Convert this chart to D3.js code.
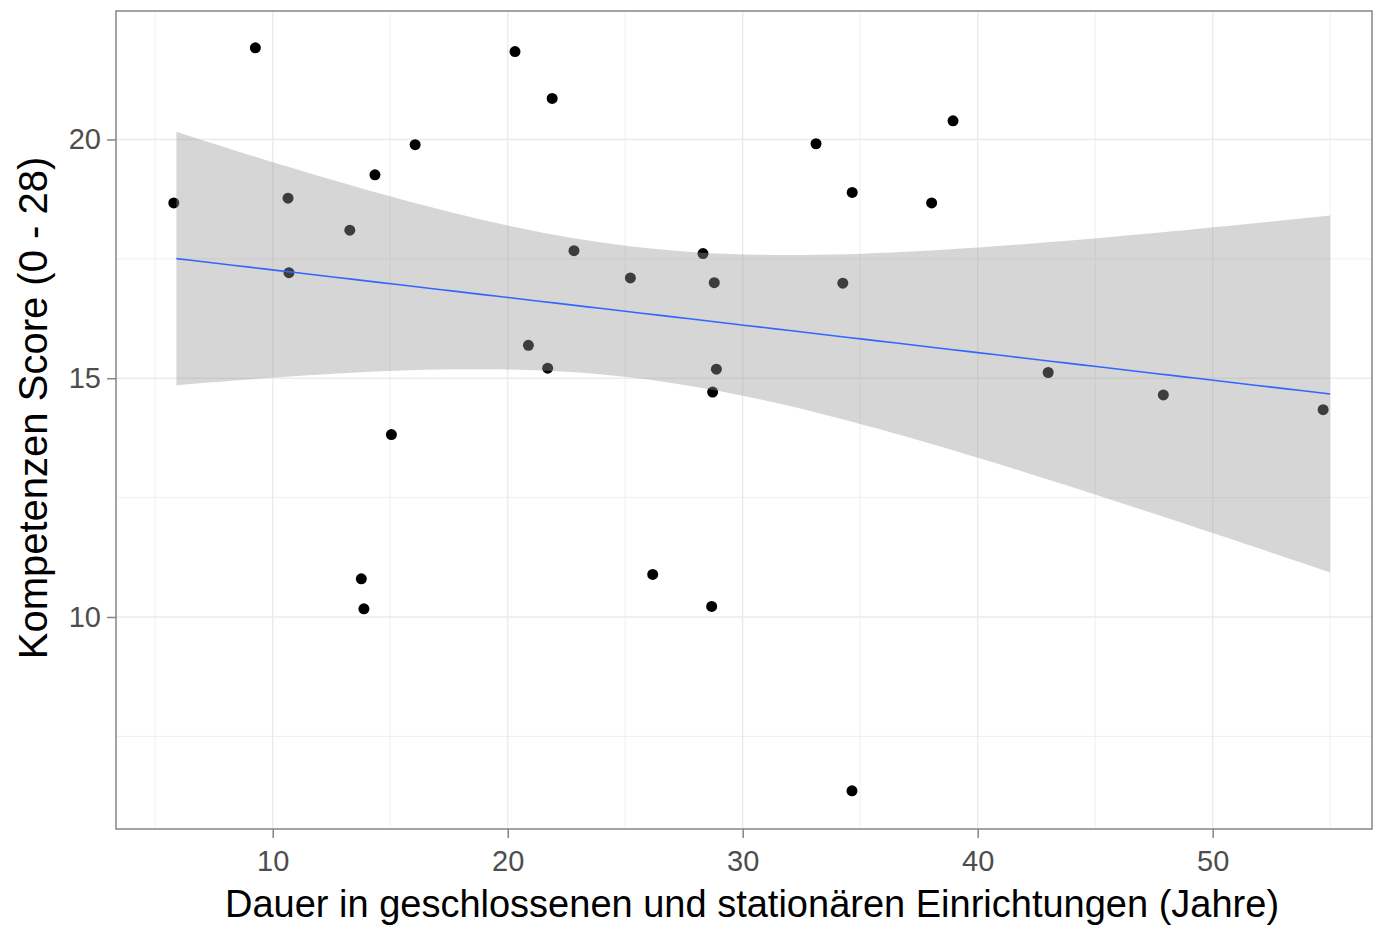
<!DOCTYPE html>
<html>
<head>
<meta charset="utf-8">
<script src="https://cdn.jsdelivr.net/npm/d3@7"></script>
<style>
	body { margin: 0; background: #ffffff; }
	svg { display: block; }
	text { font-family: "Liberation Sans", Arial, sans-serif; }
</style>
</head>
<body>
<div id="div_id_main"></div>
<script>

// Dauer (Jahre) und Kompetenzen Score
const dauerJahre = [5.79, 9.26, 10.65, 10.69, 13.28, 13.77, 13.88, 14.35, 15.05, 16.06,
					20.31, 20.88, 21.70, 21.89, 22.82, 25.22, 26.17, 28.31, 28.72, 28.68,
					28.79, 28.88, 33.12, 34.26, 34.66, 34.65, 38.04, 38.95, 43.00, 47.90, 54.70];

const kompetenzScore = [18.67, 21.92, 18.77, 17.21, 18.10, 10.80, 10.17, 19.26, 13.82, 19.89,
						21.84, 15.69, 15.21, 20.86, 17.67, 17.10, 10.89, 17.61, 14.71, 10.22,
						17.00, 15.19, 19.91, 16.99, 18.89, 6.36, 18.67, 20.39, 15.12, 14.65, 14.34];

const xTicks = [10, 20, 30, 40, 50];
const yTicks = [10, 15, 20];
const xMinor = [5, 15, 25, 35, 45, 55];
const yMinor = [7.5, 12.5, 17.5];

// range of the smooth (unjittered data)
const fitRange = [5.9, 55.0];

const X_TITLE = "Dauer in geschlossenen und stationären Einrichtungen (Jahre)";
const Y_TITLE = "Kompetenzen Score (0 - 28)";

// ---------------------------------------------------

const WIDTH = 1374, HEIGHT = 927;
const PANEL = { left: 116, right: 1372, top: 11, bottom: 829 };

let fScale_X = d3.scaleLinear()
					.domain([3.33, 56.78])
					.range([PANEL.left, PANEL.right]);

let fScale_Y = d3.scaleLinear()
					.domain([5.56, 22.69])
					.range([PANEL.bottom, PANEL.top]);

let svgMain = d3.select("#div_id_main")
				.append("svg")
					.attr("width", WIDTH)
					.attr("height", HEIGHT);

// grid -------------------------------------------

let gGrid = svgMain.append("g");

gGrid.selectAll("line.minor_x").data(xMinor).enter()
	.append("line")
		.attr("x1", d => fScale_X(d)).attr("x2", d => fScale_X(d))
		.attr("y1", PANEL.top).attr("y2", PANEL.bottom)
		.attr("stroke", "#ebebeb").attr("stroke-width", 0.8);

gGrid.selectAll("line.minor_y").data(yMinor).enter()
	.append("line")
		.attr("y1", d => fScale_Y(d)).attr("y2", d => fScale_Y(d))
		.attr("x1", PANEL.left).attr("x2", PANEL.right)
		.attr("stroke", "#ebebeb").attr("stroke-width", 0.8);

gGrid.selectAll("line.major_x").data(xTicks).enter()
	.append("line")
		.attr("x1", d => fScale_X(d)).attr("x2", d => fScale_X(d))
		.attr("y1", PANEL.top).attr("y2", PANEL.bottom)
		.attr("stroke", "#ebebeb").attr("stroke-width", 1.4);

gGrid.selectAll("line.major_y").data(yTicks).enter()
	.append("line")
		.attr("y1", d => fScale_Y(d)).attr("y2", d => fScale_Y(d))
		.attr("x1", PANEL.left).attr("x2", PANEL.right)
		.attr("stroke", "#ebebeb").attr("stroke-width", 1.4);

// points (drawn under the ribbon, like geom_point before geom_smooth) ----------

let points = dauerJahre.map((d, i) => ({ x: d, y: kompetenzScore[i] }));

svgMain.append("g").selectAll("circle").data(points).enter()
	.append("circle")
		.attr("cx", d => fScale_X(d.x))
		.attr("cy", d => fScale_Y(d.y))
		.attr("r", 5.5)
		.attr("fill", "#000000");

// linear model with 95% band ---------------------

let n = points.length;
let mx = d3.mean(points, d => d.x);
let my = d3.mean(points, d => d.y);
let sxx = d3.sum(points, d => (d.x - mx) * (d.x - mx));
let sxy = d3.sum(points, d => (d.x - mx) * (d.y - my));
let slope = sxy / sxx;
let intercept = my - slope * mx;
let sse = d3.sum(points, d => Math.pow(d.y - (intercept + slope * d.x), 2));
let sigma = Math.sqrt(sse / (n - 2));
let tCrit = 2.045; // qt(0.975, 29)

let fitGrid = d3.range(80).map(i => fitRange[0] + (fitRange[1] - fitRange[0]) * i / 79);
let fit = fitGrid.map(x => {
	let yhat = intercept + slope * x;
	let se = sigma * Math.sqrt(1 / n + (x - mx) * (x - mx) / sxx);
	return { x: x, y: yhat, lo: yhat - tCrit * se, hi: yhat + tCrit * se };
});

svgMain.append("path")
	.datum(fit)
	.attr("d", d3.area()
				.x(d => fScale_X(d.x))
				.y0(d => fScale_Y(d.lo))
				.y1(d => fScale_Y(d.hi)))
	.attr("fill", "#999999")
	.attr("fill-opacity", 0.4);

svgMain.append("path")
	.datum(fit)
	.attr("d", d3.line()
				.x(d => fScale_X(d.x))
				.y(d => fScale_Y(d.y)))
	.attr("fill", "none")
	.attr("stroke", "#3366ff")
	.attr("stroke-width", 1.6);

// panel border -------------------------------------

svgMain.append("rect")
	.attr("x", PANEL.left).attr("y", PANEL.top)
	.attr("width", PANEL.right - PANEL.left)
	.attr("height", PANEL.bottom - PANEL.top)
	.attr("fill", "none")
	.attr("stroke", "#858585")
	.attr("stroke-width", 1.5);

// axes ---------------------------------------------

let xAxis = d3.axisBottom(fScale_X).tickValues(xTicks).tickSize(9).tickPadding(12);
let yAxis = d3.axisLeft(fScale_Y).tickValues(yTicks).tickSize(9).tickPadding(6);

let gX = svgMain.append("g")
	.attr("transform", "translate(0," + PANEL.bottom + ")")
	.call(xAxis);

let gY = svgMain.append("g")
	.attr("transform", "translate(" + PANEL.left + ",0)")
	.call(yAxis);

[gX, gY].forEach(g => {
	g.select(".domain").remove();
	g.selectAll(".tick line").attr("stroke", "#858585").attr("stroke-width", 1.5);
	g.selectAll(".tick text")
		.attr("fill", "#4d4d4d")
		.style("font-size", "29px")
		.style("font-family", "'Liberation Sans', Arial, sans-serif");
});

gX.selectAll(".tick text").attr("dy", "0.71em");

// titles -------------------------------------------

svgMain.append("text")
	.attr("x", (PANEL.left + PANEL.right) / 2 + 8)
	.attr("y", 917)
	.attr("text-anchor", "middle")
	.attr("fill", "#000000")
	.style("font-size", "38px")
	.text(X_TITLE);

svgMain.append("text")
	.attr("transform", "translate(47," + ((PANEL.top + PANEL.bottom) / 2 - 12) + ") rotate(-90)")
	.attr("text-anchor", "middle")
	.attr("fill", "#000000")
	.style("font-size", "40px")
	.text(Y_TITLE);

</script>
</body>
</html>
